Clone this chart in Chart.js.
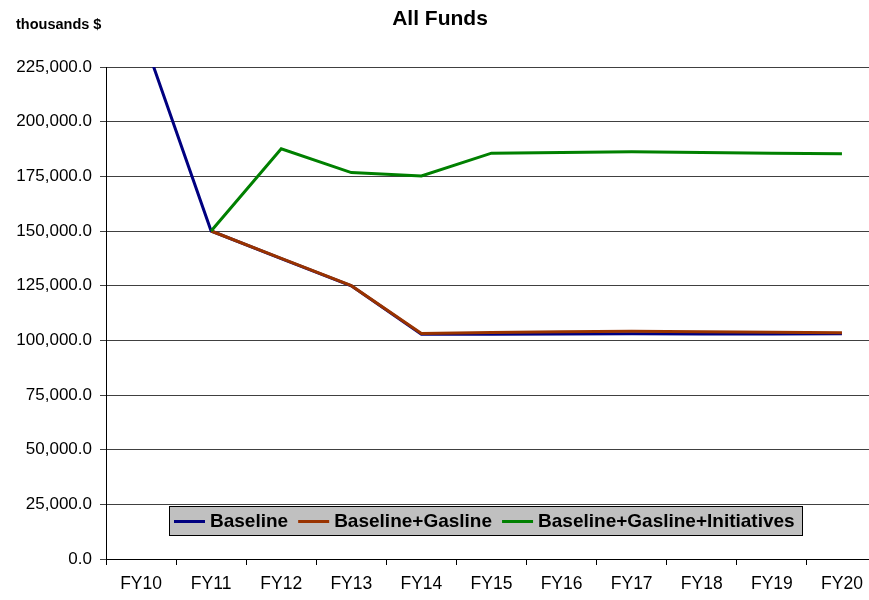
<!DOCTYPE html>
<html>
<head>
<meta charset="utf-8">
<script src="https://cdn.jsdelivr.net/npm/chart.js@4"></script>
<style>
  html, body { margin: 0; padding: 0; background: #fff; overflow: hidden; }
  #wrap { width: 880px; height: 600px; }
</style>
</head>
<body>
<div id="wrap"><canvas id="grafico" width="880" height="600"></canvas></div>
<script>
// dados (milhares de $)
const anos = ['FY10', 'FY11', 'FY12', 'FY13', 'FY14', 'FY15', 'FY16', 'FY17', 'FY18', 'FY19', 'FY20'];
const baseline = [241500, 150000, 137400, 124900, 102800, 102800, 102900, 103000, 102900, 102900, 103000];
const gasline = [null, 150000, 137500, 125000, 103100, 103600, 103900, 104200, 103900, 103700, 103500];
const iniciativas = [null, 150000, 187600, 176700, 175200, 185600, 185900, 186200, 185900, 185600, 185300];
const yTicks = [0, 25000, 50000, 75000, 100000, 125000, 150000, 175000, 200000, 225000];

const fonte = '"Liberation Sans", Arial, sans-serif';

// título, rótulo da unidade e legenda em caixa cinza
const extras = {
  id: 'extras',
  afterDraw(chart) {
    const ctx = chart.ctx;
    ctx.save();
    ctx.fillStyle = '#000';
    ctx.textBaseline = 'middle';
    ctx.font = 'bold 21px ' + fonte;
    ctx.textAlign = 'center';
    ctx.fillText('All Funds', 440, 19);
    ctx.font = 'bold 14.5px ' + fonte;
    ctx.textAlign = 'left';
    ctx.fillText('thousands $', 16, 25);

    // legenda
    const bx = 169, by = 506, bw = 633, bh = 29;
    ctx.fillStyle = '#c0c0c0';
    ctx.fillRect(bx, by, bw, bh);
    ctx.strokeStyle = '#000';
    ctx.lineWidth = 1;
    ctx.strokeRect(bx + 0.5, by + 0.5, bw, bh);
    ctx.font = 'bold 19px ' + fonte;
    let x = bx + 5;
    const y = by + bh / 2 + 1;
    chart.data.datasets.forEach(ds => {
      ctx.strokeStyle = ds.borderColor;
      ctx.lineWidth = 3;
      ctx.beginPath();
      ctx.moveTo(x, y);
      ctx.lineTo(x + 31, y);
      ctx.stroke();
      ctx.fillStyle = '#000';
      ctx.fillText(ds.label, x + 36, y);
      x += 36 + ctx.measureText(ds.label).width + 10;
    });
    ctx.restore();
  }
};

const ctx = document.getElementById('grafico').getContext('2d');
new Chart(ctx, {
  type: 'line',
  data: {
    labels: anos,
    datasets: [
      { label: 'Baseline', data: baseline, borderColor: '#000080', order: 3 },
      { label: 'Baseline+Gasline', data: gasline, borderColor: '#993300', order: 2 },
      { label: 'Baseline+Gasline+Initiatives', data: iniciativas, borderColor: '#008000', order: 1 }
    ]
  },
  options: {
    responsive: false,
    animation: false,
    layout: { padding: { top: 67, right: 3, left: 0, bottom: 0 } },
    elements: {
      line: { borderWidth: 3, tension: 0 },
      point: { radius: 0 }
    },
    scales: {
      x: {
        offset: true,
        grid: { offset: true, drawOnChartArea: false, drawTicks: true, tickLength: 6, color: '#000' },
        border: { color: '#000', width: 1 },
        ticks: { color: '#000', font: { family: fonte, size: 17.5 }, padding: 9, maxRotation: 0 },
        afterFit(scale) { scale.height = 41; }
      },
      y: {
        min: 0,
        max: 225000,
        afterBuildTicks(scale) { scale.ticks = yTicks.map(v => ({ value: v })); },
        grid: { color: '#404040', tickLength: 6 },
        border: { color: '#000', width: 1 },
        ticks: {
          color: '#000',
          font: { family: fonte, size: 17 },
          padding: 8,
          callback: v => v.toLocaleString('en-US', { minimumFractionDigits: 1, maximumFractionDigits: 1 })
        },
        afterFit(scale) { scale.width = 106; }
      }
    },
    plugins: {
      legend: { display: false },
      title: { display: false },
      tooltip: { enabled: false }
    }
  },
  plugins: [extras]
});
</script>
</body>
</html>
